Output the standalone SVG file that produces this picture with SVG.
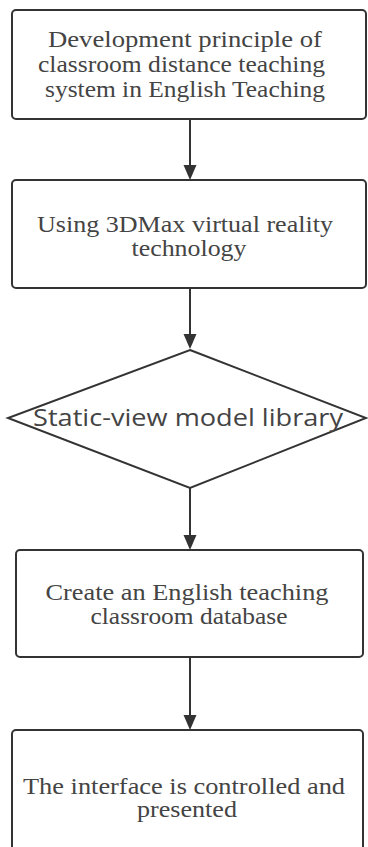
<svg xmlns="http://www.w3.org/2000/svg" width="368" height="847" viewBox="0 0 368 847">
<style>
.box{fill:#fff;stroke:#333;stroke-width:2}
.t{font-family:"Liberation Serif","Times New Roman",serif;font-size:23px;fill:#444;text-anchor:middle}
.s{font-family:"Open Sans","Noto Sans",sans-serif;font-size:23px;fill:#444;text-anchor:middle}
.c{stroke:#333;stroke-width:2;fill:none}
</style>
<rect width="368" height="847" fill="#fff"/>
<g id="n1">
<rect class="box" x="12" y="10" width="354" height="109" rx="4"/>
<text class="t" x="185" y="47" textLength="274" lengthAdjust="spacingAndGlyphs">Development principle of</text>
<text class="t" x="181.5" y="72" textLength="287" lengthAdjust="spacingAndGlyphs">classroom distance teaching</text>
<text class="t" x="185" y="97" textLength="280" lengthAdjust="spacingAndGlyphs">system in English Teaching</text>
</g>
<g id="n2">
<rect class="box" x="12" y="180" width="354" height="108" rx="4"/>
<text class="t" x="185" y="232" textLength="296" lengthAdjust="spacingAndGlyphs">Using 3DMax virtual reality</text>
<text class="t" x="189" y="256" textLength="115" lengthAdjust="spacingAndGlyphs">technology</text>
</g>
<g id="n3">
<polygon class="box" points="190,350 366,418 190,488 8,418"/>
<text class="s" x="188" y="426" textLength="310" lengthAdjust="spacingAndGlyphs">Static-view model library</text>
</g>
<g id="n4">
<rect class="box" x="16" y="550" width="347" height="107" rx="4"/>
<text class="t" x="187" y="600" textLength="283" lengthAdjust="spacingAndGlyphs">Create an English teaching</text>
<text class="t" x="189" y="624" textLength="197" lengthAdjust="spacingAndGlyphs">classroom database</text>
</g>
<g id="n5">
<rect class="box" x="12" y="730" width="351" height="140" rx="4"/>
<text class="t" x="184" y="794" textLength="322" lengthAdjust="spacingAndGlyphs">The interface is controlled and</text>
<text class="t" x="187" y="817" textLength="100" lengthAdjust="spacingAndGlyphs">presented</text>
</g>
<g id="connectors">
<line class="c" x1="190" y1="119" x2="190" y2="165"/>
<path d="M183.5,165 L196.5,165 L190,180 Z" fill="#333"/>
<line class="c" x1="190" y1="288" x2="190" y2="335"/>
<path d="M183.5,334 L196.5,334 L190,349 Z" fill="#333"/>
<line class="c" x1="190" y1="488" x2="190" y2="535"/>
<path d="M183.5,535 L196.5,535 L190,550 Z" fill="#333"/>
<line class="c" x1="190" y1="657" x2="190" y2="715"/>
<path d="M183.5,715 L196.5,715 L190,730 Z" fill="#333"/>
</g>
</svg>
